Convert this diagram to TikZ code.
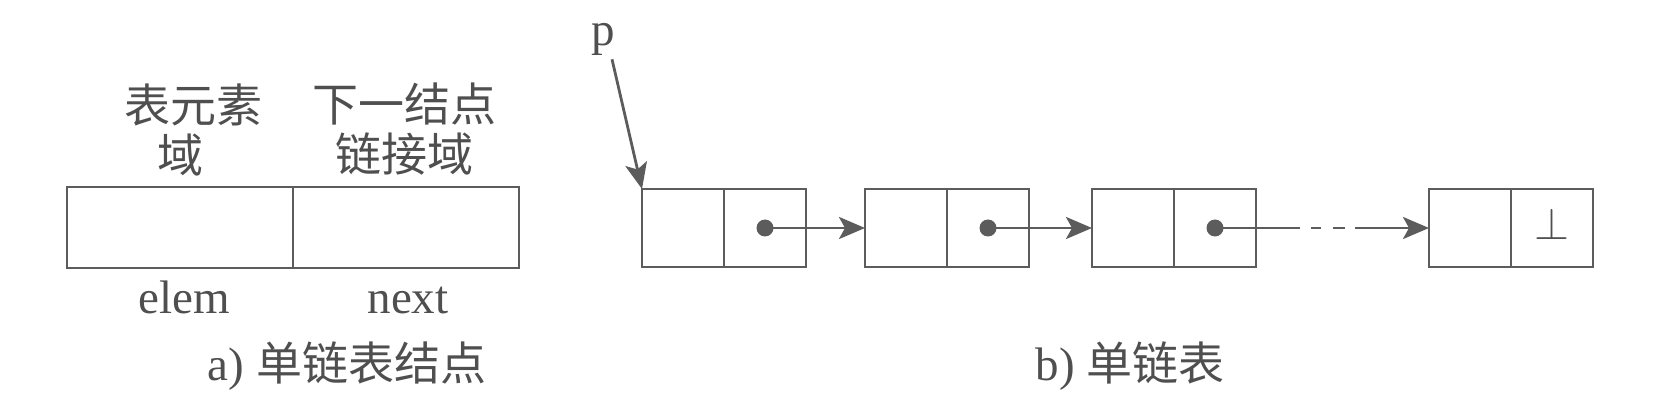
\RequirePackage{fix-cm}
\documentclass[tikz,border=0pt]{standalone}
\usepackage{fontspec}
\setmainfont{Liberation Serif}
\newfontfamily\cjk{Noto Sans CJK SC}
\usetikzlibrary{positioning, arrows.meta}
\definecolor{linegray}{HTML}{5C5C5C}
\definecolor{textgray}{HTML}{4F4F4F}
\tikzset{
  cell/.style={
    rectangle,
    draw=linegray, line width=2.8pt,
    minimum height=78pt,
    minimum width=82pt,
    inner sep=0pt,
    outer sep=0pt
  },
  field/.style={
    cell,
    minimum height=81pt,
    minimum width=226pt
  },
  ptr/.style={
    circle,
    fill=linegray,
    minimum size=17pt,
    inner sep=0pt
  },
  txt/.style={
    text=textgray,
    inner sep=0pt,
    font=\fontsize{47}{50}\selectfont
  },
  cjktext/.style={
    txt,
    align=center,
    font=\fontsize{46}{50}\selectfont\cjk
  },
  arrow/.style={
    draw=linegray,
    line width=2.8pt,
    -{Stealth[length=26pt, width=22pt, inset=6pt]}
  }
}

\begin{document}
\begin{tikzpicture}[x=1pt, y=1pt]
\useasboundingbox (0,0) rectangle (1661,407);
% nodes
%% a) one node
\node[field] (elem) at (180,179.5) {};
\node[field, right = 0pt of elem] (next) {};

\node[cjktext] (elemtop) at (193,277.5) {表元素\\域\hspace*{26pt}};
\node[cjktext] (nexttop) at (404,277.5) {下一结点\\链接域};

\node[txt, anchor=base] (elemname) at (184,94) {elem};
\node[txt, anchor=base] (nextname) at (408,94) {next};
\node[txt, anchor=base] (capa) at (347,27) {a) {\cjk\fontsize{46}{50}\selectfont 单链表结点}};

%% b) the list
\node[cell] (d1) at (683,179) {};
\node[cell, right = 0pt of d1] (n1) {};
\node[cell, right = 59pt of n1] (d2) {};
\node[cell, right = 0pt of d2] (n2) {};
\node[cell, right = 63pt of n2] (d3) {};
\node[cell, right = 0pt of d3] (n3) {};
\node[cell, right = 173pt of n3] (d4) {};
\node[cell, right = 0pt of d4] (n4) {};

\node[ptr] (dot1) at (n1.center) {};
\node[ptr] (dot2) at (n2.center) {};
\node[ptr] (dot3) at (n3.center) {};
\node[txt, yshift=4pt, font=\fontsize{45}{50}\selectfont] (nil) at (n4.center) {$\bot$};

\node[txt, inner sep=4pt] (p) at (603,368) {p};
\node[txt, anchor=base] (capb) at (1130,27) {b) {\cjk\fontsize{46}{50}\selectfont 单链表}};

% edges
\draw [arrow] ([xshift=9pt]p.south) -- (d1.north west);
\draw [arrow] (dot1.center) -- (d2.west);
\draw [arrow] (dot2.center) -- (d3.west);
\draw [arrow, dash pattern=on 85pt off 11pt on 10pt off 12pt on 12pt off 10pt on 200pt] (dot3.center) -- (d4.west);

\end{tikzpicture}
\end{document}
